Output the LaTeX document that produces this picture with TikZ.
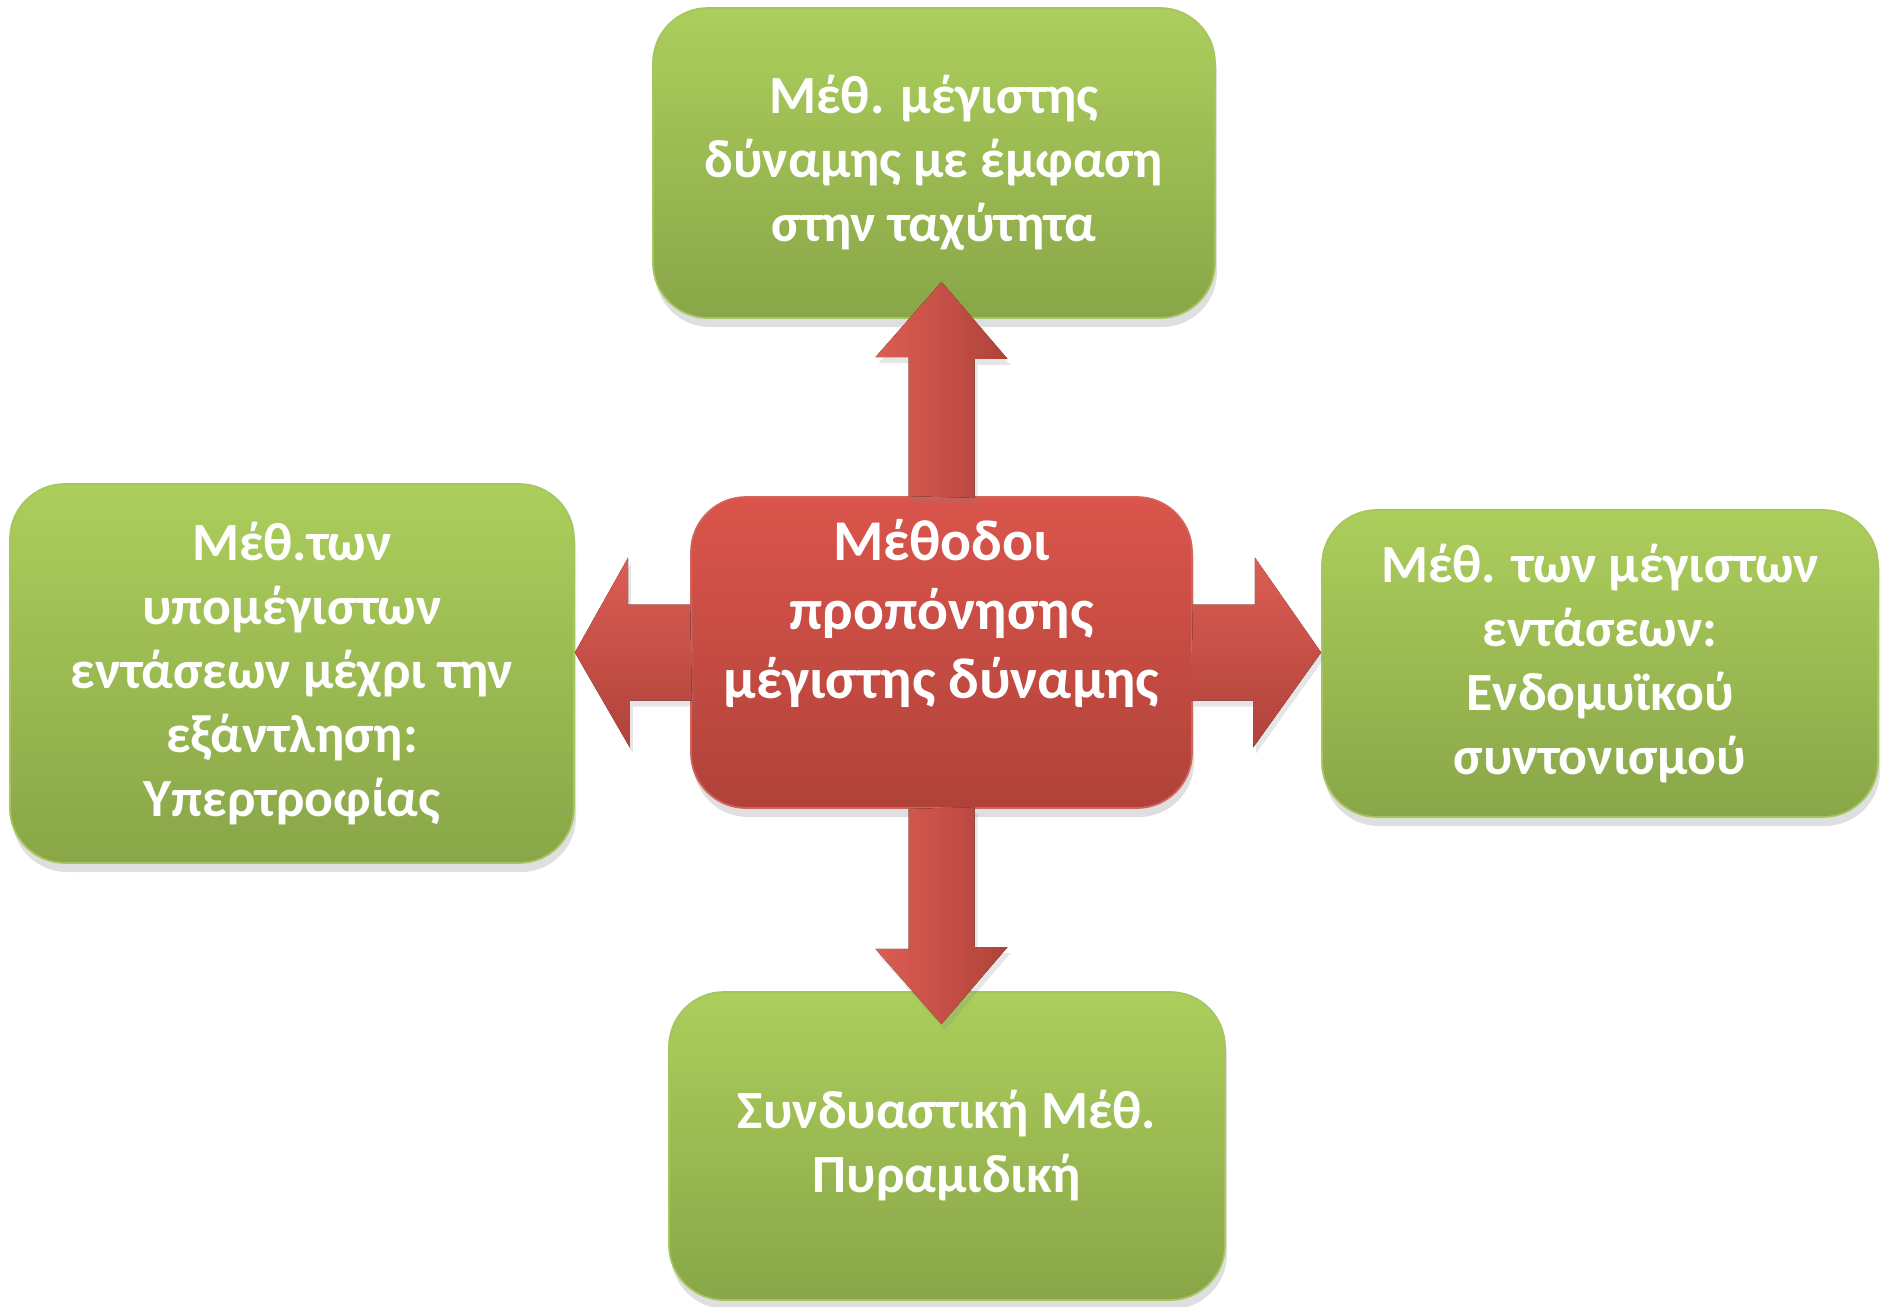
\documentclass[tikz,border=0pt]{standalone}
\usepackage{fontspec}
\setmainfont{Carlito}
\usetikzlibrary{shadows,calc}

\definecolor{greentop}{RGB}{172,206,92}
\definecolor{greenbot}{RGB}{137,166,72}
\definecolor{greenline}{RGB}{165,198,95}
\definecolor{redtop}{RGB}{218,85,75}
\definecolor{redbot}{RGB}{176,66,58}
\definecolor{redline}{RGB}{210,100,90}

\begin{document}
\begin{tikzpicture}[
    method/.style={rounded corners=0.55cm, draw=greenline, line width=0.5pt,
        top color=greentop, bottom color=greenbot, inner sep=0pt,
        drop shadow={opacity=0.25,shadow xshift=0.2mm,shadow yshift=-0.9mm},
        text=white, align=center, font=\fontsize{15.3}{18.2}\selectfont\bfseries},
    corebox/.style={method, draw=redline, top color=redtop, bottom color=redbot},
    coretext/.style={text=white, align=center, font=\fontsize{16.4}{19.6}\selectfont\bfseries},
    vflow/.style={left color=redtop!95!white, right color=redbot,
        drop shadow={opacity=0.2,shadow xshift=0.3mm,shadow yshift=-0.6mm}},
    hflow/.style={top color=redtop!95!white, bottom color=redbot,
        drop shadow={opacity=0.2,shadow xshift=0.3mm,shadow yshift=-0.6mm}}]
\useasboundingbox (0,0) rectangle (18.81,-13.07);

\node[method, minimum width=5.62cm, minimum height=3.10cm] (speed) at (9.34,-1.63)
    {Μέθ. μέγιστης\\δύναμης με έμφαση\\στην ταχύτητα};
\node[method, minimum width=5.64cm, minimum height=3.79cm] (hyper) at (2.92,-6.735)
    {Μέθ.των\\υπομέγιστων\\εντάσεων μέχρι την\\εξάντληση:\\Υπερτροφίας};
\node[method, minimum width=5.56cm, minimum height=3.07cm] (neural) at (16.00,-6.635)
    {Μέθ. των μέγιστων\\εντάσεων:\\Ενδομυϊκού\\συντονισμού};
\node[method, minimum width=5.56cm, minimum height=3.08cm] (pyramid) at (9.47,-11.46)
    {Συνδυαστική Μέθ.\\Πυραμιδική};

\node[corebox, minimum width=5.01cm, minimum height=3.11cm] (core) at (9.415,-6.525) {};
\node[coretext] (coretitle) at ([yshift=3.9mm]core.center)
    {Μέθοδοι\\προπόνησης\\μέγιστης δύναμης};

\fill[vflow] ([xshift=-3.3mm]core.north) -- ++(0,1.39) -- ++(-0.33,0)
    -- ($(speed.south -| core.north)+(0,0.37)$) -- ++(0.66,-0.77) -- ++(-0.33,0) -- ++(0,-1.39) -- cycle;
\fill[vflow] ([xshift=-3.3mm]core.south) -- ++(0,-1.40) -- ++(-0.33,0)
    -- ($(pyramid.north -| core.south)+(0,-0.33)$) -- ++(0.66,0.77) -- ++(-0.33,0) -- ++(0,1.40) -- cycle;
\fill[hflow] ([yshift=4.8mm]core.west) -- ++(-0.62,0) -- ++(0,0.47)
    -- (hyper.east |- core.west) -- ++(0.55,-0.95) -- ++(0,0.47) -- ++(0.62,0) -- cycle;
\fill[hflow] ([yshift=4.8mm]core.east) -- ++(0.62,0) -- ++(0,0.47)
    -- (neural.west |- core.east) -- ++(-0.68,-0.95) -- ++(0,0.47) -- ++(-0.62,0) -- cycle;
\end{tikzpicture}
\end{document}
